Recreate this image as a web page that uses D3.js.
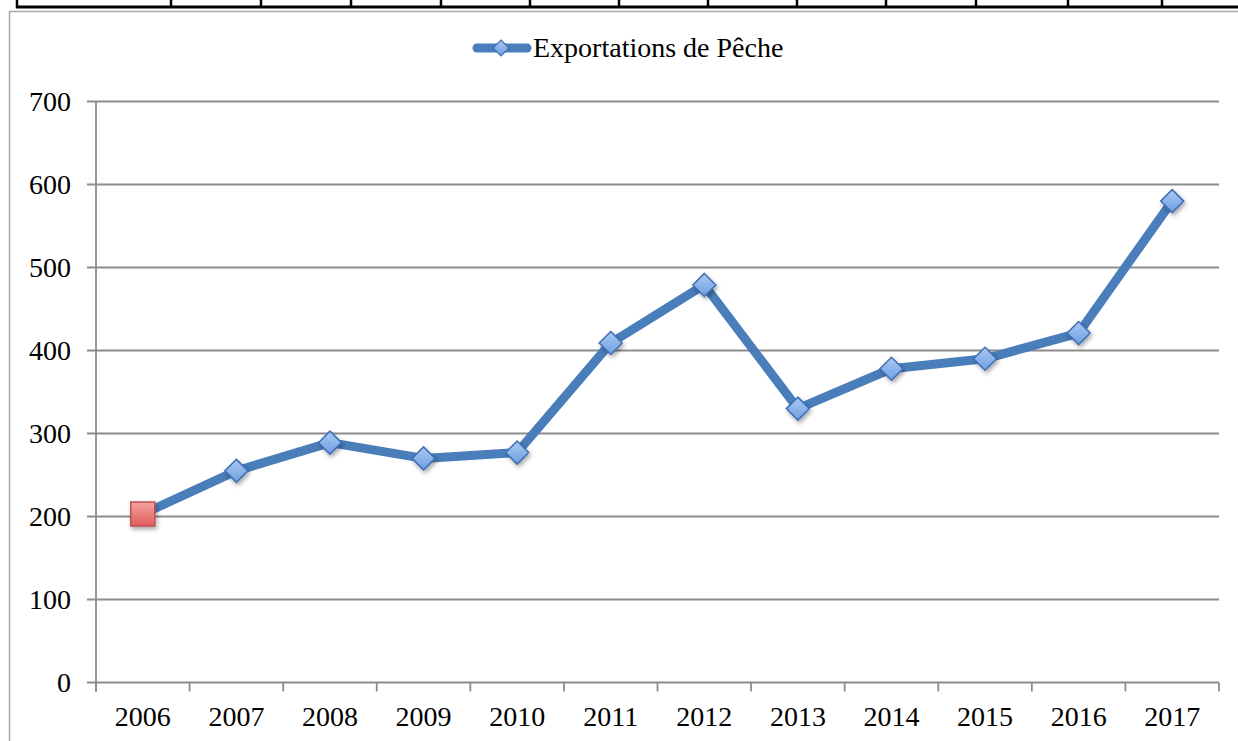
<!DOCTYPE html>
<html><head><meta charset="utf-8">
<script src="https://cdn.jsdelivr.net/npm/d3@7"></script>
<style>html,body{margin:0;padding:0;background:#fff;}svg{display:block;}</style>
</head><body>
<script>
const years = ["2006","2007","2008","2009","2010","2011","2012","2013","2014","2015","2016","2017"];
const exports = [203, 255, 289, 270, 277, 409, 479, 330, 378, 390, 421, 580];
const yTicks = [0, 100, 200, 300, 400, 500, 600, 700];
const seriesName = "Exportations de Pêche";
const tableCols = [17, 171, 261, 351, 441, 530, 619, 708, 797, 886, 976, 1068, 1162];

const W = 1238, H = 741;
const svg = d3.select("body").append("svg").attr("width", W).attr("height", H);
const defs = svg.append("defs");
const gB = defs.append("linearGradient").attr("id","gBlue").attr("x1","0").attr("y1","0").attr("x2","0").attr("y2","1");
gB.append("stop").attr("offset","0").attr("stop-color","#a9c9f4");
gB.append("stop").attr("offset","1").attr("stop-color","#6f9fe0");
const gR = defs.append("linearGradient").attr("id","gRed").attr("x1","0").attr("y1","0").attr("x2","0").attr("y2","1");
gR.append("stop").attr("offset","0").attr("stop-color","#f5a3a1");
gR.append("stop").attr("offset","1").attr("stop-color","#e05d5a");
const sh = defs.append("filter").attr("id","shadow").attr("x","-50%").attr("y","-50%").attr("width","200%").attr("height","200%");
sh.append("feDropShadow").attr("dx",1.5).attr("dy",2.5).attr("stdDeviation",2).attr("flood-color","#000").attr("flood-opacity",0.35);

// table border at top
svg.append("line").attr("x1",16).attr("x2",W).attr("y1",7).attr("y2",7).attr("stroke","#000").attr("stroke-width",3);
svg.selectAll("line.col").data(tableCols).enter().append("line").attr("class","col")
  .attr("x1",d=>d).attr("x2",d=>d).attr("y1",0).attr("y2",8).attr("stroke","#000").attr("stroke-width",2.5);

// chart frame (left + top)
svg.append("path").attr("d",`M9.5,${H} V11.5 H${W}`).attr("fill","none").attr("stroke","#a6a6a6").attr("stroke-width",1.5);

const x0 = 96, x1 = 1219, yTop = 101.5, yBot = 682.5;
const x = d3.scaleBand().domain(years).range([x0, x1]);
const y = d3.scaleLinear().domain([0, 700]).range([yBot, yTop]);
const font = "'Liberation Serif', 'Times New Roman', serif";
const fs = 28;
const grid = "#8c8c8c";

// gridlines + y tick marks
svg.append("g").selectAll("line").data(yTicks).enter().append("line")
  .attr("x1", x0 - 9).attr("x2", x1).attr("y1", d=>y(d)).attr("y2", d=>y(d))
  .attr("stroke", grid).attr("stroke-width", 1.8);
// y axis line
svg.append("line").attr("x1",x0).attr("x2",x0).attr("y1",yTop).attr("y2",yBot+9).attr("stroke",grid).attr("stroke-width",1.8);
// x tick marks at boundaries
const bounds = years.map(d=>x(d)).concat([x1]);
svg.append("g").selectAll("line").data(bounds).enter().append("line")
  .attr("x1",d=>d).attr("x2",d=>d).attr("y1",yBot).attr("y2",yBot+9).attr("stroke",grid).attr("stroke-width",1.8);

// y labels
svg.append("g").selectAll("text").data(yTicks).enter().append("text")
  .attr("x", 71).attr("y", d=>y(d)).attr("dy","0.33em").attr("text-anchor","end")
  .attr("font-family", font).attr("font-size", fs).attr("fill","#000").text(d=>d);
// x labels
svg.append("g").selectAll("text").data(years).enter().append("text")
  .attr("x", d=>x(d)+x.bandwidth()/2).attr("y", 726).attr("text-anchor","middle")
  .attr("font-family", font).attr("font-size", fs).attr("fill","#000").text(d=>d);

// line
const pts = years.map((yr,i)=>({yr, v:exports[i]}));
const line = d3.line().x(d=>x(d.yr)+x.bandwidth()/2).y(d=>y(d.v));
svg.append("path").datum(pts).attr("d", line).attr("fill","none")
  .attr("stroke","#4a7ebb").attr("stroke-width",9).attr("stroke-linejoin","round");

// markers
const diamond = "M0,-11.5 L11.5,0 L0,11.5 L-11.5,0 Z";
svg.append("g").selectAll("path").data(pts.slice(1)).enter().append("path")
  .attr("transform", d=>`translate(${x(d.yr)+x.bandwidth()/2},${y(d.v)})`)
  .attr("d", diamond).attr("fill","url(#gBlue)").attr("stroke","#3f6fb5").attr("stroke-width",1.5)
  .attr("filter","url(#shadow)");
const first = pts[0];
svg.append("rect").attr("x", x(first.yr)+x.bandwidth()/2-12).attr("y", y(first.v)-12)
  .attr("width",24).attr("height",24).attr("fill","url(#gRed)").attr("stroke","#c0504d").attr("stroke-width",1.5)
  .attr("filter","url(#shadow)");

// legend
const lg = svg.append("g");
lg.append("line").attr("x1",477).attr("x2",527).attr("y1",48).attr("y2",48)
  .attr("stroke","#4a7ebb").attr("stroke-width",9).attr("stroke-linecap","round");
lg.append("path").attr("transform","translate(501,48)").attr("d","M0,-8 L8,0 L0,8 L-8,0 Z")
  .attr("fill","url(#gBlue)").attr("stroke","#3f6fb5").attr("stroke-width",1.2);
lg.append("text").attr("x",533).attr("y",57).attr("font-family",font).attr("font-size",fs)
  .attr("fill","#000").text(seriesName);
</script>
</body></html>
